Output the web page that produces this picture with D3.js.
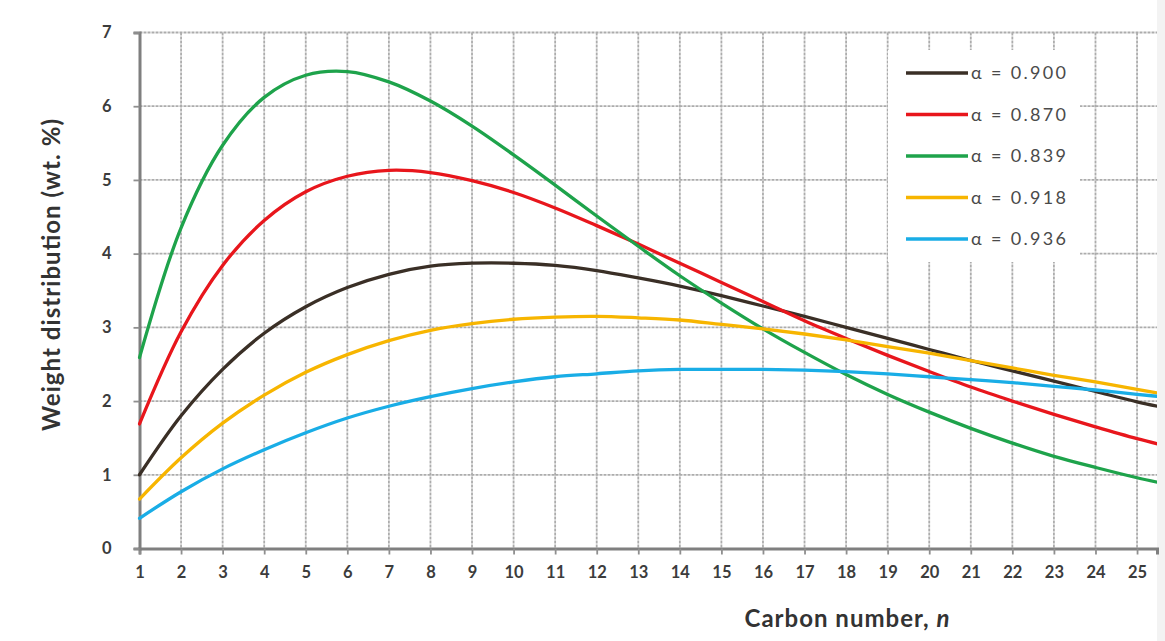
<!DOCTYPE html>
<html><head><meta charset="utf-8">
<script src="https://cdn.jsdelivr.net/npm/d3@7"></script>
<style>
html,body{margin:0;padding:0;background:#fff;}
svg{display:block;}
</style></head>
<body>
<svg id="c" width="1165" height="641"></svg>
<script>
// Carbon numbers (x) and weight distributions (wt. %)
const carbonNumbers = [1,2,3,4,5,6,7,8,9,10,11,12,13,14,15,16,17,18,19,20,21,22,23,24,25,26];
const alpha0900 = [1.00,1.80,2.43,2.92,3.28,3.54,3.72,3.83,3.87,3.87,3.84,3.77,3.67,3.56,3.43,3.29,3.15,3.00,2.85,2.70,2.55,2.41,2.27,2.13,1.99,1.87];
const alpha0870 = [1.69,2.94,3.84,4.45,4.84,5.05,5.13,5.10,4.99,4.83,4.62,4.38,4.13,3.87,3.61,3.35,3.09,2.85,2.62,2.40,2.19,2.00,1.82,1.65,1.49,1.35];
const alpha0839 = [2.59,4.35,5.47,6.12,6.42,6.47,6.33,6.07,5.73,5.34,4.93,4.51,4.10,3.70,3.33,2.98,2.66,2.36,2.09,1.85,1.63,1.43,1.25,1.10,0.96,0.84];
const alpha0918 = [0.67,1.23,1.70,2.08,2.39,2.63,2.82,2.96,3.05,3.11,3.14,3.15,3.13,3.10,3.04,2.98,2.91,2.83,2.74,2.65,2.55,2.45,2.35,2.26,2.16,2.06];
const alpha0936 = [0.41,0.77,1.08,1.34,1.57,1.77,1.93,2.06,2.17,2.26,2.33,2.37,2.41,2.43,2.43,2.43,2.42,2.40,2.37,2.33,2.29,2.25,2.20,2.15,2.09,2.04];
const seriesNames = ["α = 0.900","α = 0.870","α = 0.839","α = 0.918","α = 0.936"];
const seriesColors = ["#3a2f26","#e8161c","#1ea34b","#f7b500","#19ade6"];
const xTicks = [1,2,3,4,5,6,7,8,9,10,11,12,13,14,15,16,17,18,19,20,21,22,23,24,25];
const yTicks = [0,1,2,3,4,5,6,7];

const seriesValues = [alpha0900, alpha0870, alpha0839, alpha0918, alpha0936];
const svg = d3.select("#c");
const L = 139.5, R = 1157, T = 32.5, B = 548.5;
const FONT = "Lato, 'Open Sans', sans-serif";

svg.append("rect").attr("x",1157).attr("y",0).attr("width",8).attr("height",641).attr("fill","#f3f3f3");

const x = d3.scaleLinear().domain([1, 25.48]).range([L, R]);
const y = d3.scaleLinear().domain([0, 7]).range([B, T]);

// grid
const grid = svg.append("g");
grid.selectAll("line.v").data(xTicks.filter(d=>d>1)).join("line")
  .attr("x1",d=>x(d)).attr("x2",d=>x(d)).attr("y1",T).attr("y2",B)
  .attr("stroke","#acacac").attr("stroke-width",1.8).attr("stroke-dasharray","3,1");
grid.selectAll("line.h").data(yTicks.filter(d=>d>0)).join("line")
  .attr("x1",L).attr("x2",R).attr("y1",d=>y(d)).attr("y2",d=>y(d))
  .attr("stroke","#acacac").attr("stroke-width",1.8).attr("stroke-dasharray","3,1");

// axes
const xAxis = d3.axisBottom(x).tickValues(xTicks).tickSize(6).tickPadding(12).tickFormat(d3.format("d"));
const yAxis = d3.axisLeft(y).tickValues(yTicks).tickSize(6).tickPadding(22).tickFormat(d3.format("d"));
const gx = svg.append("g").attr("transform",`translate(0,${B})`).call(xAxis);
const gy = svg.append("g").attr("transform",`translate(${L},0)`).call(yAxis);
[gx,gy].forEach(g=>{
  g.select(".domain").attr("stroke","#7f7f7f").attr("stroke-width",3);
  g.selectAll(".tick line").attr("stroke","#8f8f8f").attr("stroke-width",1.8);
  g.selectAll(".tick text").attr("fill","#3c3c3c").attr("font-family",FONT).attr("font-size",16.5).attr("font-weight","bold");
});

// lines
svg.append("clipPath").attr("id","pc").append("rect").attr("x",L-2).attr("y",0).attr("width",R-L+2).attr("height",B);
const line = d3.line().x((d,i)=>x(carbonNumbers[i])).y(d=>y(d)).curve(d3.curveCatmullRom.alpha(0.5));
const lg = svg.append("g").attr("clip-path","url(#pc)");
seriesValues.forEach((vals,k)=>{
  lg.append("path").attr("d",line(vals)).attr("fill","none")
    .attr("stroke",seriesColors[k]).attr("stroke-width",3.3).attr("stroke-linecap","round");
});

// legend
const leg = svg.append("g");
leg.append("rect").attr("x",888).attr("y",50).attr("width",192).attr("height",212).attr("fill","#fff");
seriesNames.forEach((n,k)=>{
  const yy = 73 + k*41.5;
  leg.append("line").attr("x1",906).attr("x2",968).attr("y1",yy).attr("y2",yy)
    .attr("stroke",seriesColors[k]).attr("stroke-width",3.5);
  leg.append("text").attr("x",971).attr("y",yy+6).text(n)
    .attr("font-family",FONT).attr("font-size",18).attr("fill","#4a4a4a")
    .attr("textLength",95).attr("lengthAdjust","spacing");
});

// axis titles
svg.append("text").attr("x",847).attr("y",627).attr("text-anchor","middle")
  .attr("font-family",FONT).attr("font-weight","bold").attr("font-size",24).attr("fill","#333")
  .attr("textLength",205).attr("lengthAdjust","spacing")
  .html('Carbon number, <tspan font-style="italic">n</tspan>');
svg.append("text").attr("transform","translate(60,275) rotate(-90)").attr("text-anchor","middle")
  .attr("font-family",FONT).attr("font-weight","bold").attr("font-size",24).attr("fill","#333")
  .attr("textLength",312).attr("lengthAdjust","spacing")
  .text("Weight distribution (wt. %)");
</script>
</body></html>
